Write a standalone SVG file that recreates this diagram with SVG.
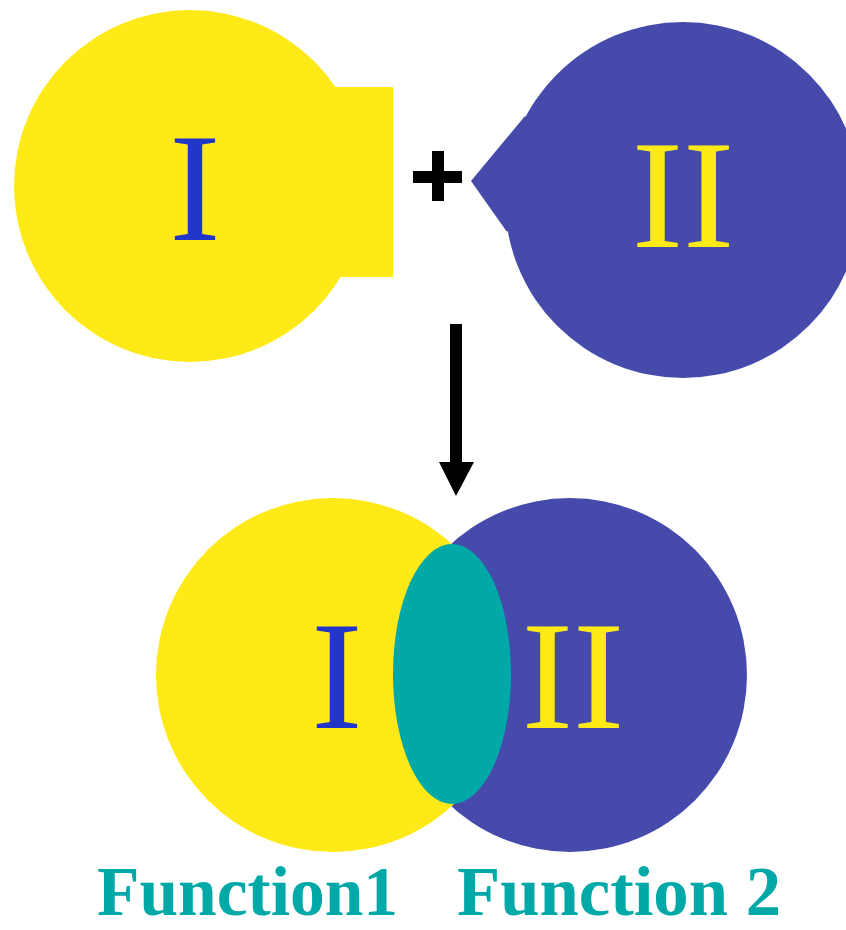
<svg xmlns="http://www.w3.org/2000/svg" width="846" height="930" viewBox="0 0 846 930">
<style>
.y{fill:#FFE916}
.b{fill:#464AAA}
.t{fill:#00A8A8}
.roman{font-family:"Liberation Serif","Times New Roman",serif;font-size:154px;text-anchor:middle}
.lbl{font-family:"Liberation Serif","Times New Roman",serif;font-size:69px;font-weight:bold;fill:#00A8A8}
</style>
<rect width="846" height="930" fill="#ffffff"/>
<g id="part1">
<circle class="y" cx="190" cy="186" r="176"/>
<rect class="y" x="320" y="87" width="73" height="190"/>
<text class="roman" x="195" y="240" fill="#2236C8">I</text>
</g>
<g id="part2">
<circle class="b" cx="683" cy="200" r="178"/>
<polygon class="b" points="471,181 525,116 560,160 507,232"/>
<text class="roman" x="683" y="247" fill="#FFE916">II</text>
</g>
<g id="plus">
<rect x="413" y="171" width="49" height="12" fill="#000"/>
<rect x="432" y="151" width="12" height="50" fill="#000"/>
</g>
<g id="connectors">
<rect x="450" y="324" width="12" height="140" fill="#000"/>
<polygon points="439,462 474,462 456,496" fill="#000"/>
</g>
<g id="complex">
<circle class="b" cx="570" cy="675" r="177"/>
<circle class="y" cx="333" cy="675" r="177"/>
<ellipse class="t" cx="452" cy="674" rx="59" ry="130"/>
<text class="roman" x="337" y="728" fill="#2236C8">I</text>
<text class="roman" x="573" y="728" fill="#FFE916">II</text>
</g>
<g id="labels">
<text class="lbl" x="97" y="915" textLength="301" lengthAdjust="spacingAndGlyphs">Function1</text>
<text class="lbl" x="457" y="915" textLength="324" lengthAdjust="spacingAndGlyphs">Function 2</text>
</g>
</svg>
